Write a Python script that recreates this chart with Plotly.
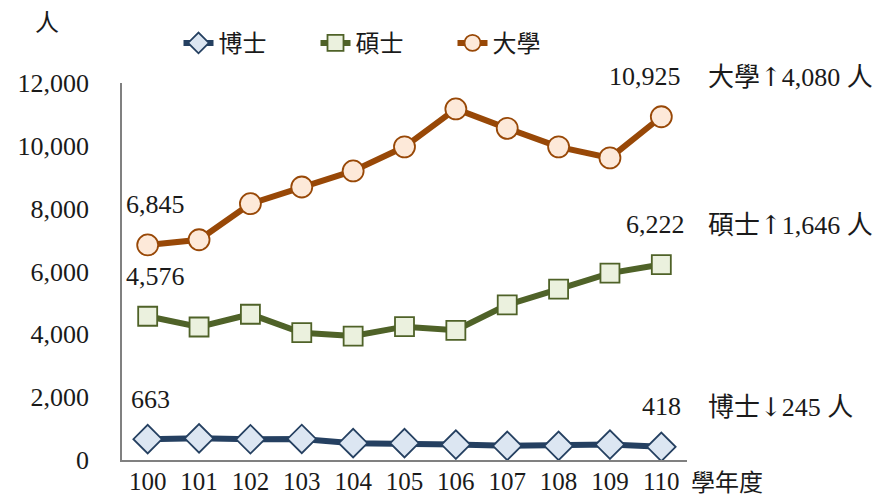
import plotly.graph_objects as go

years = ["100", "101", "102", "103", "104", "105", "106", "107", "108", "109", "110"]
phd = [663, 690, 660, 670, 535, 535, 490, 450, 450, 490, 418]
master = [4576, 4234, 4640, 4052, 3946, 4244, 4128, 4938, 5440, 5950, 6222]
college = [6845, 7010, 8158, 8689, 9201, 9968, 11174, 10557, 9968, 9616, 10925]

names = ["博士", "碩士", "大學"]
line_colors = ["#254061", "#4F6228", "#984807"]
fill_colors = ["#DCE6F2", "#EBF1DE", "#FDE9D9"]
symbols = ["diamond", "square", "circle"]
sizes = [22, 19, 21]
series = [phd, master, college]

FONT = "'Liberation Serif', 'Noto Sans CJK TC', serif"
TXT = "#1a1a1a"
FS = 26

fig = go.Figure()
for nm, vals, lc, fc, sym, sz in zip(names, series, line_colors, fill_colors, symbols, sizes):
    fig.add_trace(go.Scatter(
        x=years, y=vals, name=nm, mode="lines+markers",
        line=dict(color=lc, width=6),
        marker=dict(symbol=sym, size=sz, color=fc, line=dict(color=lc, width=1.8)),
    ))

annots = []
last = len(years) - 1
first_shift = [3, 8, 8]
last_shift = [0, -6, -16]
for vals, fsh, lsh in zip(series, first_shift, last_shift):
    annots.append(dict(x=0, y=vals[0], xref="x", yref="y", text=f"{vals[0]:,}",
                       showarrow=False, yshift=40, xshift=fsh, font=dict(size=FS, family=FONT, color=TXT)))
    annots.append(dict(x=last, y=vals[-1], xref="x", yref="y", text=f"{vals[-1]:,}",
                       showarrow=False, yshift=40, xshift=lsh, font=dict(size=FS, family=FONT, color=TXT)))
ARW = "<span style=\"font-family:'DejaVu Serif'\">{}</span>"
for nm, vals in zip(names, series):
    diff = vals[-1] - vals[0]
    arrow = ARW.format("↑" if diff > 0 else "↓")
    annots.append(dict(x=1.033, y=vals[-1], xref="paper", yref="y", xanchor="left",
                       text=f"{nm}{arrow}{abs(diff):,} 人", showarrow=False, yshift=40,
                       font=dict(size=FS, family=FONT, color=TXT)))

annots.append(dict(x=0.0, y=1.0, xref="paper", yref="paper", xanchor="center", yanchor="bottom",
                   text="人", showarrow=False, xshift=-75, yshift=45,
                   font=dict(size=24, family=FONT, color=TXT)))
annots.append(dict(x=1.0, y=0.0, xref="paper", yref="paper", xanchor="left", yanchor="top",
                   text="學年度", showarrow=False, xshift=2, yshift=-8,
                   font=dict(size=24, family=FONT, color=TXT)))

fig.update_layout(
    width=886, height=497,
    margin=dict(l=122, r=199, t=83, b=37, autoexpand=False),
    paper_bgcolor="white", plot_bgcolor="white",
    font=dict(family=FONT, size=FS, color=TXT),
    showlegend=True,
    legend=dict(orientation="h", x=0.1, y=1.165, xanchor="left", yanchor="top",
                font=dict(size=24, family=FONT), bgcolor="rgba(0,0,0,0)",
                entrywidth=92, entrywidthmode="pixels", traceorder="normal"),
    annotations=annots,
)
fig.update_xaxes(type="category", range=[-0.5, 10.5], showline=True, linecolor="#808080",
                 linewidth=1.5, showgrid=False, ticks="", zeroline=False, automargin=False,
                 tickfont=dict(size=25, family=FONT, color=TXT), ticklabelstandoff=-2)
fig.update_yaxes(range=[0, 12000], tickvals=[0, 2000, 4000, 6000, 8000, 10000, 12000],
                 tickformat=",", showline=True, linecolor="#808080", linewidth=1.5,
                 showgrid=False, zeroline=False, ticks="", automargin=False,
                 tickfont=dict(size=FS, family=FONT, color=TXT), ticklabelstandoff=26)

fig.write_html("out.html")
